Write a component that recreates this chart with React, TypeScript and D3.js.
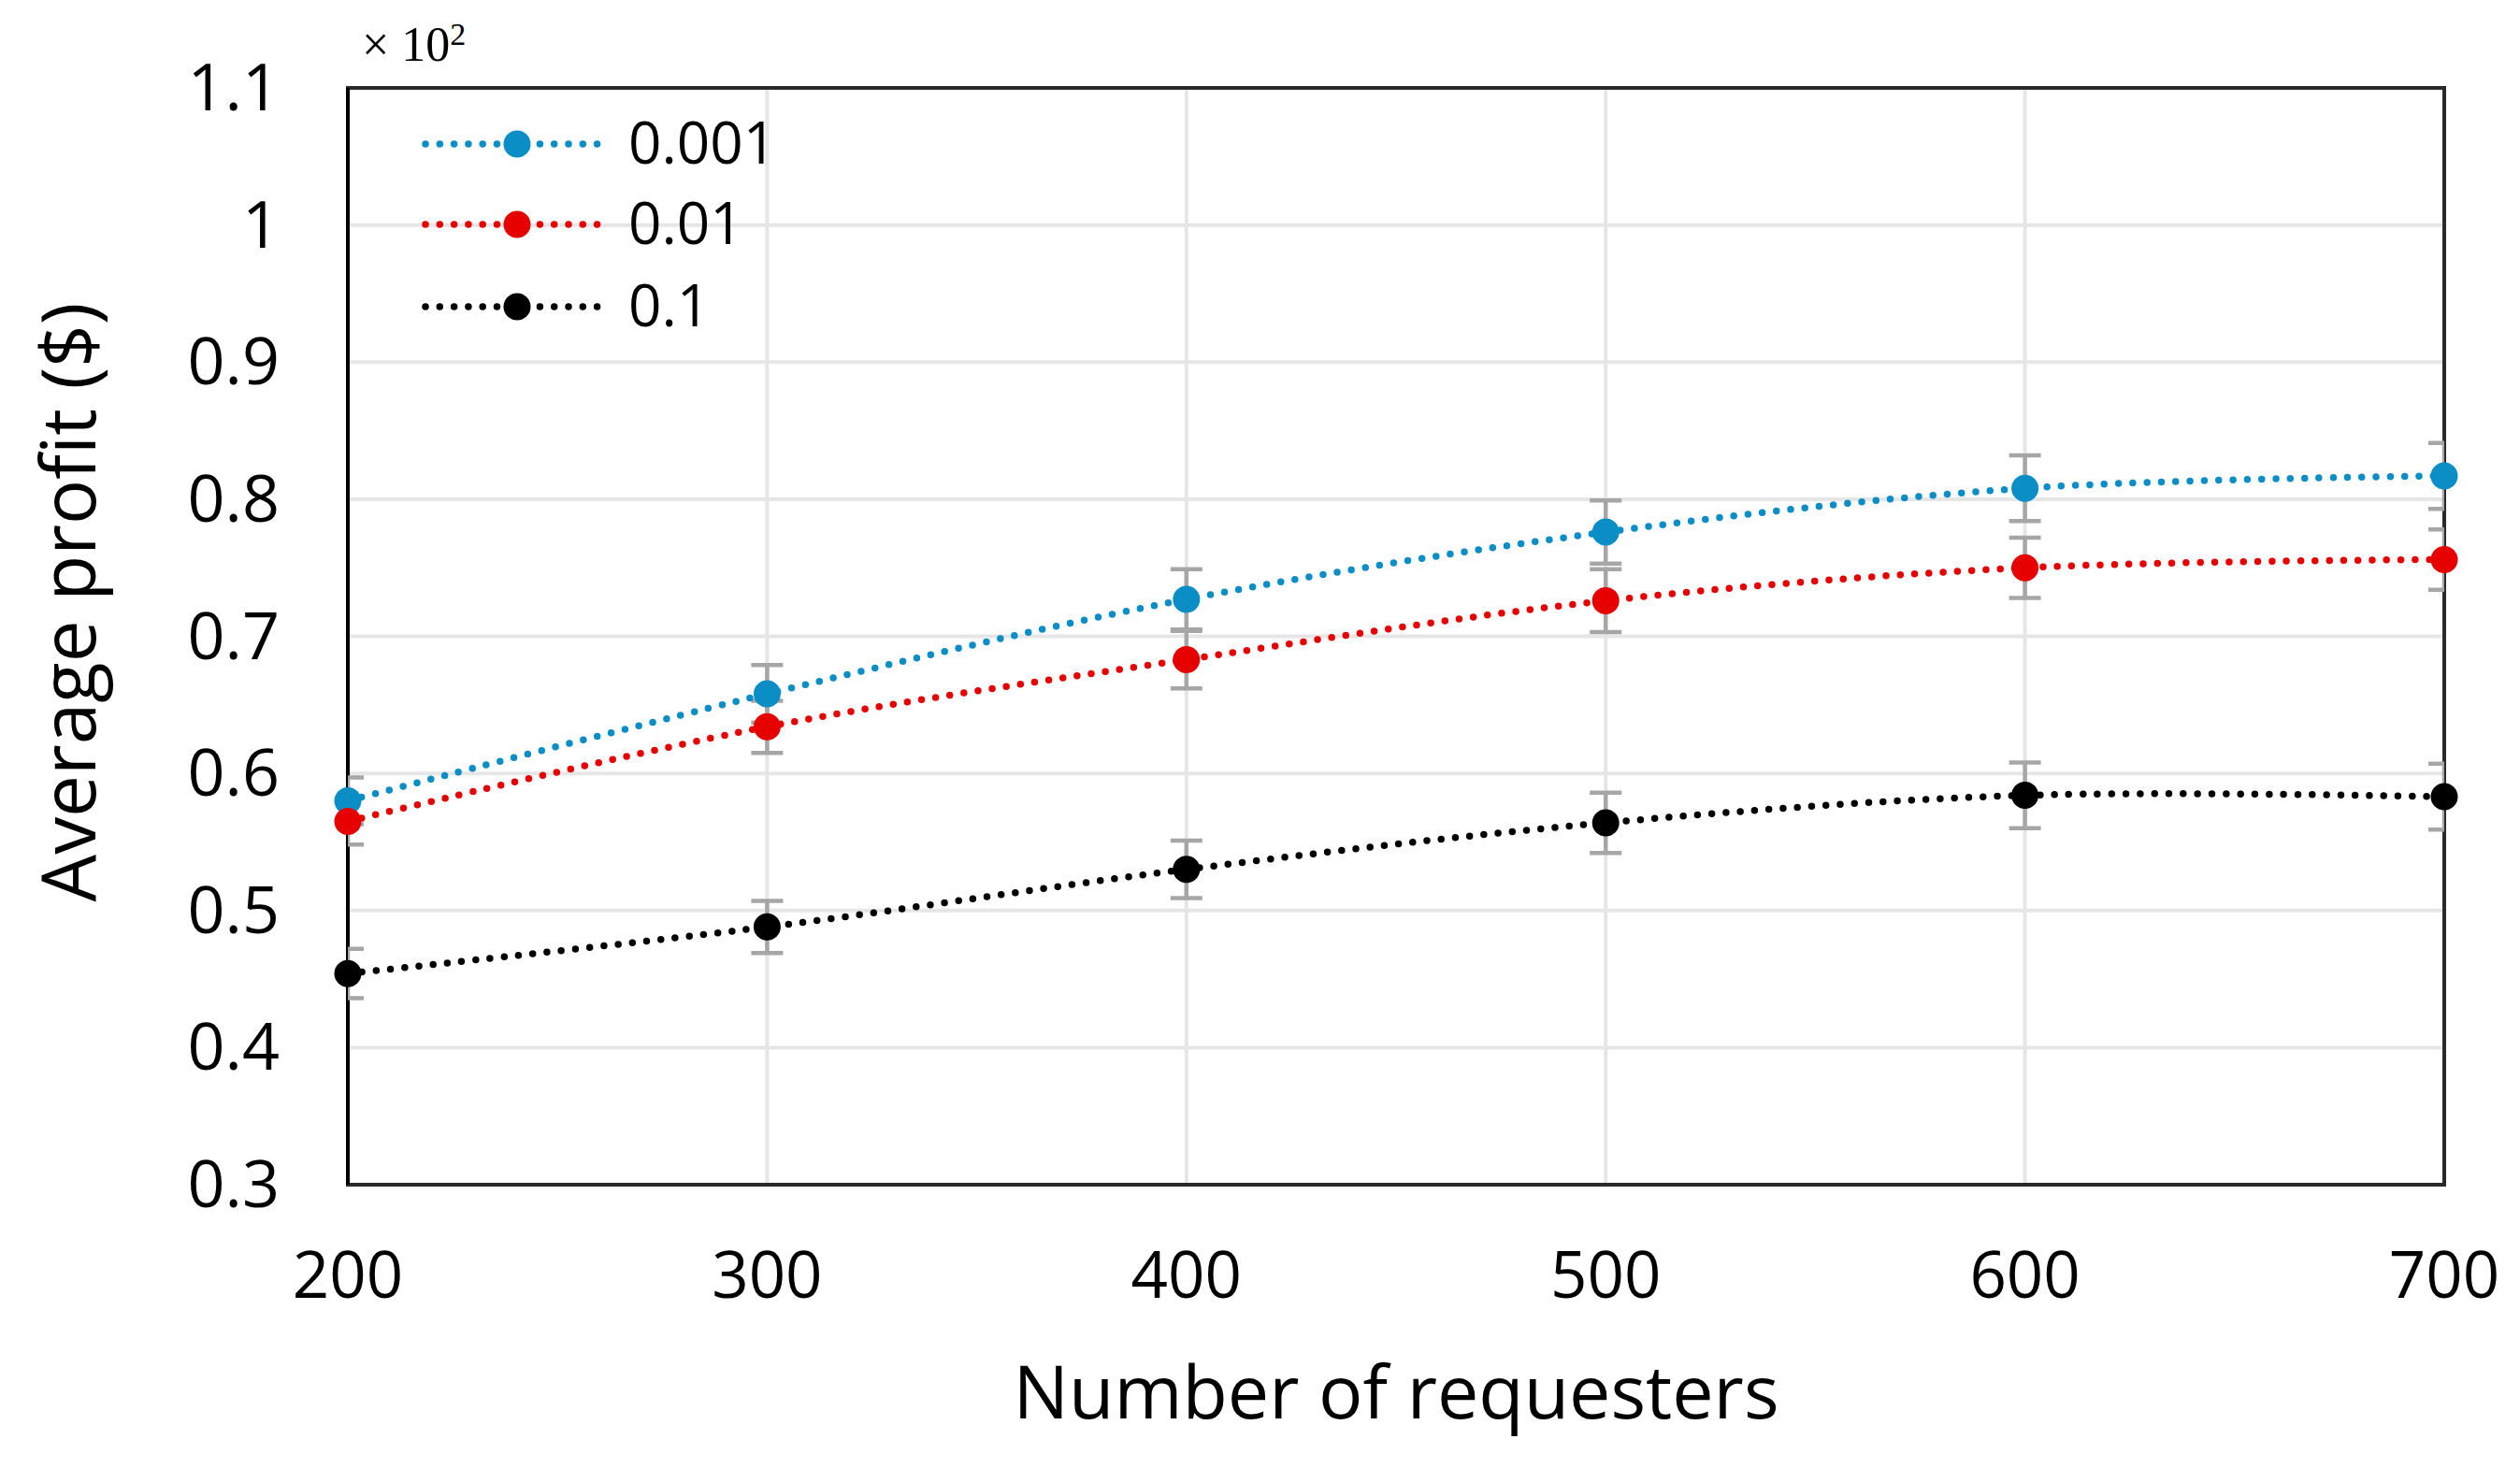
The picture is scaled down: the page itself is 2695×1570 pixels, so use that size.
import * as React from 'react'
import * as d3 from 'd3'

// chart values (y in units of x10^2 $)
const requesters = [200, 300, 400, 500, 600, 700]
const yTicks = [0.3, 0.4, 0.5, 0.6, 0.7, 0.8, 0.9, 1, 1.1]
const seriesNames = ['0.001', '0.01', '0.1']
const seriesColors = ['#0b8dc6', '#e60000', '#000000']

const profit0001 = [0.580, 0.658, 0.727, 0.776, 0.808, 0.817]
const profit001 = [0.565, 0.634, 0.683, 0.726, 0.750, 0.756]
const profit01 = [0.454, 0.488, 0.530, 0.564, 0.584, 0.583]

const err0001 = [0.017, 0.021, 0.022, 0.023, 0.024, 0.024]
const err001 = [0.017, 0.019, 0.021, 0.023, 0.022, 0.022]
const err01 = [0.018, 0.019, 0.021, 0.022, 0.024, 0.024]

const seriesValues = [profit0001, profit001, profit01]
const seriesErrors = [err0001, err001, err01]

const W = 2695
const H = 1570
const left = 372
const right = 2614
const top = 94
const bottom = 1267

const App = () => {
  const x = d3.scaleLinear().domain([200, 700]).range([left, right])
  const y = d3.scaleLinear().domain([0.3, 1.1]).range([bottom, top])

  const line = d3.line<[number, number]>()
    .x(d => x(d[0]))
    .y(d => y(d[1]))
    .curve(d3.curveCatmullRom.alpha(0.5))

  const tickFont = "'Open Sans', 'Noto Sans', sans-serif"
  const legendY = [154, 240, 328]

  return (
    <svg width={W} height={H} style={{position: 'absolute', left: 0, top: 0, background: '#fff'}}>
      <defs>
        <clipPath id="plot">
          <rect x={left} y={top} width={right - left} height={bottom - top} />
        </clipPath>
      </defs>

      {/* grid */}
      {yTicks.map(t => (
        <line key={'gy' + t} x1={left} x2={right} y1={y(t)} y2={y(t)} stroke="#e6e6e6" strokeWidth={4} />
      ))}
      {requesters.map(r => (
        <line key={'gx' + r} x1={x(r)} x2={x(r)} y1={top} y2={bottom} stroke="#e6e6e6" strokeWidth={4} />
      ))}

      {/* frame */}
      <rect x={left} y={top} width={right - left} height={bottom - top} fill="none" stroke="#2a2a2a" strokeWidth={4} />
      <line x1={left} x2={left} y1={top} y2={bottom} stroke="#000" strokeWidth={4} />

      {/* error bars */}
      <g clipPath="url(#plot)">
        {seriesValues.map((vals, si) => vals.map((v, i) => {
          const e = seriesErrors[si][i]
          const cx = x(requesters[i])
          return (
            <g key={'e' + si + '-' + i} stroke="#a6a6a6" strokeWidth={4.5}>
              <line x1={cx} x2={cx} y1={y(v + e)} y2={y(v - e)} />
              <line x1={cx - 17} x2={cx + 17} y1={y(v + e)} y2={y(v + e)} />
              <line x1={cx - 17} x2={cx + 17} y1={y(v - e)} y2={y(v - e)} />
            </g>
          )
        }))}
      </g>

      {/* lines and markers */}
      {seriesValues.map((vals, si) => (
        <g key={'s' + si}>
          <path
            d={line(vals.map((v, i) => [requesters[i], v] as [number, number])) || ''}
            fill="none"
            stroke={seriesColors[si]}
            strokeWidth={7.5}
            strokeLinecap="round"
            strokeDasharray="0 15.3"
          />
          {vals.map((v, i) => (
            <circle key={i} cx={x(requesters[i])} cy={y(v)} r={14.5} fill={seriesColors[si]} />
          ))}
        </g>
      ))}

      {/* y axis labels */}
      {yTicks.map(t => (
        <text key={'ty' + t} x={299} y={y(t) + 24} textAnchor="end" fontFamily={tickFont} fontSize={70} fill="#000">
          {String(t)}
        </text>
      ))}
      {/* x axis labels */}
      {requesters.map(r => (
        <text key={'tx' + r} x={x(r)} y={1388} textAnchor="middle" fontFamily={tickFont} fontSize={69} fill="#000">
          {r}
        </text>
      ))}

      {/* axis titles */}
      <text x={(left + right) / 2} y={1517} textAnchor="middle" fontFamily={tickFont} fontSize={79} fill="#000">
        Number of requesters
      </text>
      <text transform="translate(102, 644) rotate(-90)" textAnchor="middle" fontFamily={tickFont} fontSize={80} fill="#000">
        Average profit ($)
      </text>

      {/* multiplier */}
      <text x={387} y={65} fontFamily="'Liberation Serif', serif" fontSize={52} fill="#000">
        × 10<tspan dy={-17} fontSize={34}>2</tspan>
      </text>

      {/* legend */}
      {seriesNames.map((name, si) => (
        <g key={'l' + si}>
          <line x1={455} x2={646} y1={legendY[si]} y2={legendY[si]} stroke={seriesColors[si]} strokeWidth={7.5}
            strokeLinecap="round" strokeDasharray="0 15.3" />
          <circle cx={553} cy={legendY[si]} r={14.5} fill={seriesColors[si]} />
          <text x={672} y={legendY[si] + 21} fontFamily={tickFont} fontSize={62} fill="#000">{name}</text>
        </g>
      ))}
    </svg>
  )
}

export default App
